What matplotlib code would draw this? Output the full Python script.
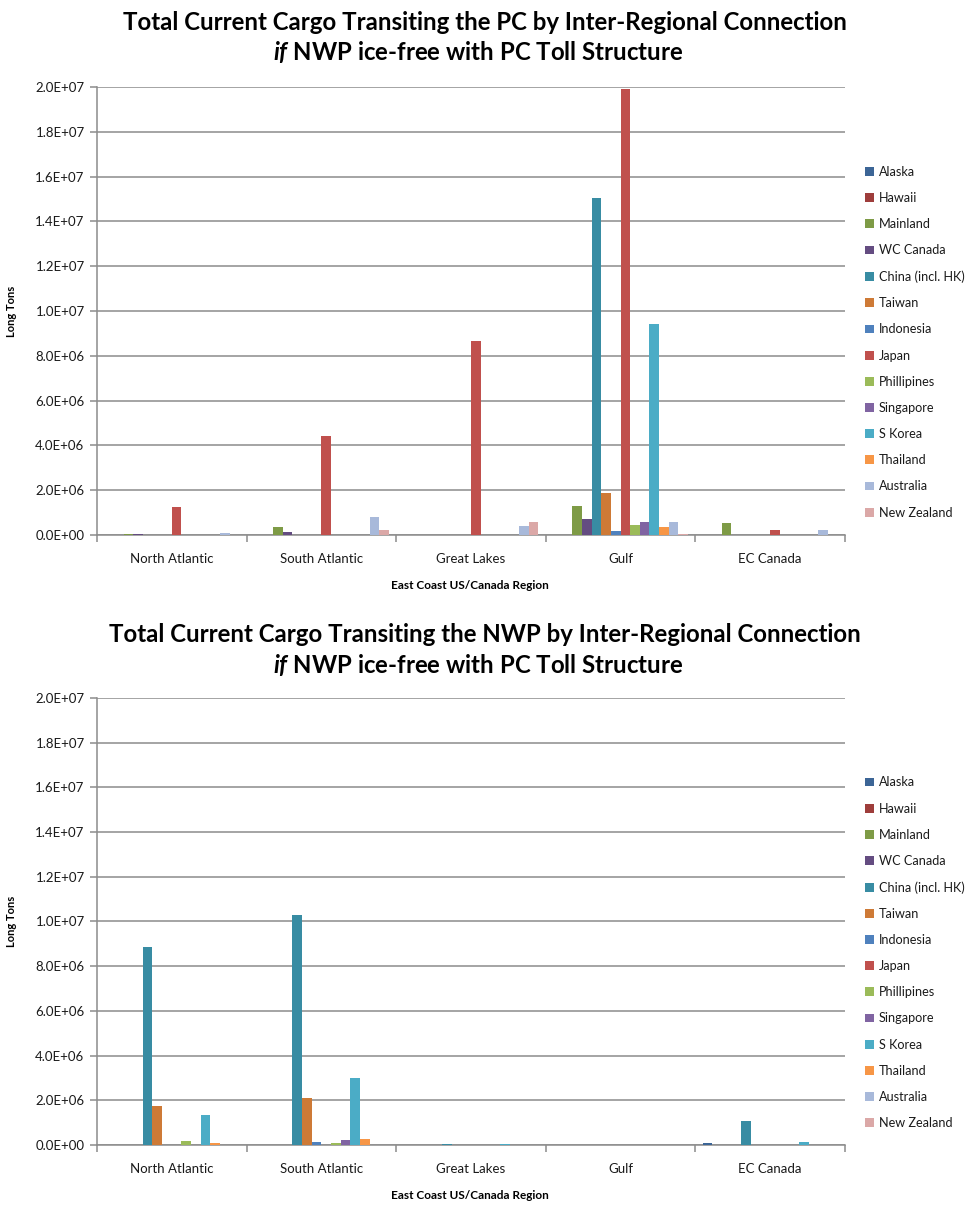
import numpy as np
import matplotlib
matplotlib.use("Agg")
import matplotlib.pyplot as plt
from matplotlib.patches import Patch
from matplotlib.ticker import FuncFormatter, MultipleLocator

# ======================= Data =======================
regions = ["North Atlantic", "South Atlantic", "Great Lakes", "Gulf", "EC Canada"]
series = ["Alaska", "Hawaii", "Mainland", "WC Canada", "China (incl. HK)", "Taiwan",
          "Indonesia", "Japan", "Phillipines", "Singapore", "S Korea", "Thailand",
          "Australia", "New Zealand"]
colors = ["#3C6596", "#9E3D3B", "#7E9B46", "#644C81", "#388CA3", "#CE7A36",
          "#4F81BD", "#C0504D", "#9BBB59", "#8064A2", "#4BACC6", "#F79646",
          "#A8B9DA", "#DBA8A7"]

# PC chart (long tons), one list per series over regions
pc_alaska = [0, 0, 0, 0, 0]
pc_hawaii = [0, 0, 0, 0, 0]
pc_mainland = [5e4, 3.4e5, 0, 1.28e6, 5.4e5]
pc_wccanada = [5e4, 1.2e5, 0, 6.9e5, 0]
pc_china = [0, 0, 0, 1.504e7, 0]
pc_taiwan = [0, 0, 0, 1.87e6, 0]
pc_indonesia = [0, 0, 0, 1.9e5, 0]
pc_japan = [1.26e6, 4.4e6, 8.65e6, 1.99e7, 2.4e5]
pc_phillipines = [0, 0, 0, 4.5e5, 0]
pc_singapore = [0, 0, 0, 5.8e5, 0]
pc_skorea = [0, 0, 0, 9.43e6, 0]
pc_thailand = [0, 0, 0, 3.6e5, 0]
pc_australia = [1e5, 8.2e5, 4e5, 5.8e5, 2.4e5]
pc_nz = [0, 2.2e5, 6e5, 6e4, 0]

# NWP chart
nwp_alaska = [0, 0, 0, 0, 7e4]
nwp_hawaii = [0, 0, 0, 0, 0]
nwp_mainland = [0, 0, 0, 0, 0]
nwp_wccanada = [0, 0, 0, 0, 0]
nwp_china = [8.85e6, 1.03e7, 6e4, 0, 1.09e6]
nwp_taiwan = [1.73e6, 2.08e6, 0, 0, 0]
nwp_indonesia = [0, 1.2e5, 0, 0, 0]
nwp_japan = [0, 0, 0, 0, 0]
nwp_phillipines = [1.6e5, 1.1e5, 0, 0, 0]
nwp_singapore = [0, 2.1e5, 0, 0, 0]
nwp_skorea = [1.36e6, 3.0e6, 6e4, 0, 1.5e5]
nwp_thailand = [7e4, 2.6e5, 0, 0, 0]
nwp_australia = [0, 0, 0, 0, 0]
nwp_nz = [0, 0, 0, 0, 0]

pc_data = [pc_alaska, pc_hawaii, pc_mainland, pc_wccanada, pc_china, pc_taiwan,
           pc_indonesia, pc_japan, pc_phillipines, pc_singapore, pc_skorea,
           pc_thailand, pc_australia, pc_nz]
nwp_data = [nwp_alaska, nwp_hawaii, nwp_mainland, nwp_wccanada, nwp_china, nwp_taiwan,
            nwp_indonesia, nwp_japan, nwp_phillipines, nwp_singapore, nwp_skorea,
            nwp_thailand, nwp_australia, nwp_nz]

# ======================= Style =======================
FONT = "Lato"
plt.rcParams["font.family"] = [FONT, "DejaVu Sans"]
plt.rcParams["mathtext.fontset"] = "custom"
plt.rcParams["mathtext.it"] = "Lato:bold:italic"
plt.rcParams["mathtext.rm"] = "Lato:bold"
GRID = "#8C8C8C"
TXT = "#1A1A1A"
TITLE_SIZE = 17.3

fig = plt.figure(figsize=(9.7, 12.07), dpi=100)


def sci_fmt(v, pos):
    return f"{v:.1E}"


def draw(ax, data, title, title_y):
    n = len(series)
    w = 1.0 / (n + 1.5)
    x = np.arange(len(regions)) + 0.5
    for j, vals in enumerate(data):
        ax.bar(x + (j - (n - 1) / 2) * w, vals, width=w, color=colors[j],
               edgecolor="none", zorder=3)
    ax.set_xlim(0, len(regions))
    ax.set_ylim(0, 2.0e7)
    ax.yaxis.set_major_locator(MultipleLocator(2e6))
    ax.yaxis.set_major_formatter(FuncFormatter(sci_fmt))
    ax.grid(axis="y", color=GRID, linewidth=1.1, zorder=0)
    for s in ["top", "right"]:
        ax.spines[s].set_visible(False)
    for s in ["left", "bottom"]:
        ax.spines[s].set_color(GRID)
        ax.spines[s].set_linewidth(1.1)
    ax.set_xticks(x)
    ax.set_xticklabels(regions)
    ax.set_xticks(np.arange(len(regions) + 1), minor=True)
    ax.tick_params(axis="x", which="major", length=0, pad=13, labelsize=9.5, labelcolor=TXT)
    ax.tick_params(axis="x", which="minor", length=5, color=GRID, width=1.1)
    ax.tick_params(axis="y", length=5, color=GRID, width=1.1, labelsize=9.5,
                   labelcolor=TXT, pad=4)
    ax.set_ylabel("Long Tons", fontsize=8, fontweight="bold")
    ax.yaxis.set_label_coords(-0.107, 0.5)
    ax.set_xlabel("East Coast US/Canada Region", fontsize=8.5, fontweight="bold")
    ax.xaxis.set_label_coords(0.498, -0.101)
    handles = [Patch(facecolor=c, edgecolor="none") for c in colors]
    ax.legend(handles, series, loc="center left", bbox_to_anchor=(1.012, 0.43),
              frameon=False, fontsize=9.1, handlelength=0.7, handleheight=0.7,
              handletextpad=0.4, labelspacing=1.12, labelcolor=TXT)
    fig.text(0.5, title_y, title, ha="center", va="center",
             fontsize=TITLE_SIZE, fontweight="bold", color="black")


ax1 = fig.add_axes([0.1, 0.5568, 0.771, 0.3712])
draw(ax1, pc_data, "Total Current Cargo Transiting the PC by Inter-Regional Connection",
     1 - 22 / 1207)
fig.text(0.493, 1 - 52 / 1207, r"$\mathit{if}$ NWP ice-free with PC Toll Structure",
         ha="center", va="center", fontsize=TITLE_SIZE, fontweight="bold", color="black")

ax2 = fig.add_axes([0.1, 0.0514, 0.771, 0.3703])
draw(ax2, nwp_data, "Total Current Cargo Transiting the NWP by Inter-Regional Connection",
     1 - 634 / 1207)
fig.text(0.493, 1 - 665 / 1207, r"$\mathit{if}$ NWP ice-free with PC Toll Structure",
         ha="center", va="center", fontsize=TITLE_SIZE, fontweight="bold", color="black")

fig.savefig("out.png", dpi=100, facecolor="white")
